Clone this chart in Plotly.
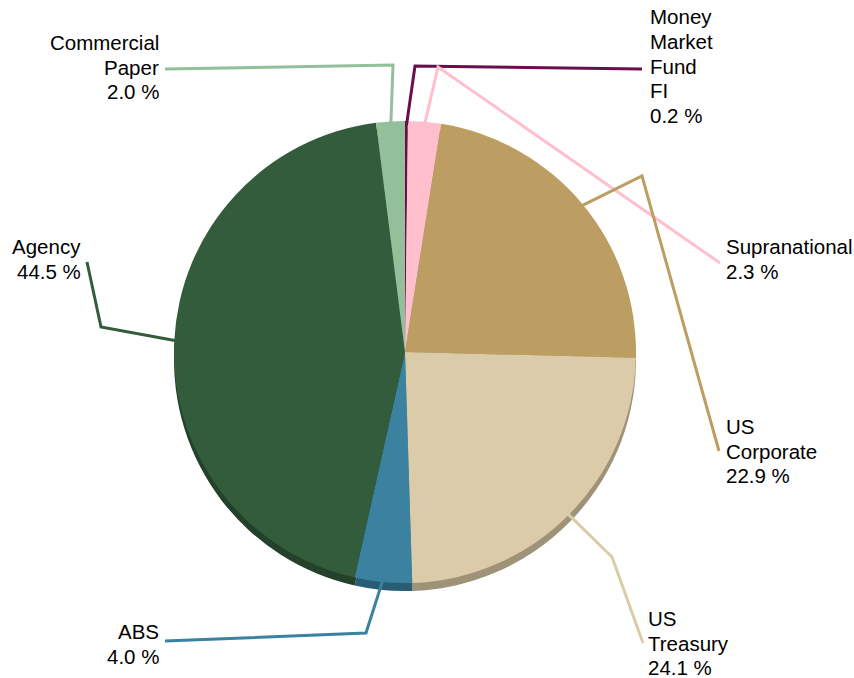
import math
import plotly.graph_objects as go

# 資料
labels = ['Money Market Fund FI', 'Supranational', 'US Corporate', 'US Treasury',
          'ABS', 'Agency', 'Commercial Paper']
values = [0.2, 2.3, 22.9, 24.1, 4.0, 44.5, 2.0]
label_lines = [['Money', 'Market', 'Fund', 'FI'], ['Supranational'], ['US', 'Corporate'],
               ['US', 'Treasury'], ['ABS'], ['Agency'], ['Commercial', 'Paper']]
colors = ['#690F4C', '#FFBFCC', '#BC9E63', '#DCCBA8', '#3A82A0', '#335C3C', '#93C09B']

W, H = 854, 678
CX, CY, R = 405, 352, 231
SHADOW = 8
LINE_GAP = 24.5


def darker(hex_color, f=0.72):
    h = hex_color.lstrip('#')
    r, g, b = (int(h[i:i + 2], 16) for i in (0, 2, 4))
    return '#%02x%02x%02x' % (int(r * f), int(g * f), int(b * f))


def px_x(x):
    return x / W


def px_y(y):
    return 1 - y / H


# 標籤位置（像素）：折點、終點、文字位置與對齊
label_layout = [
    dict(elbow=(415, 66), end=(642, 69), text=(648, 66), side='left'),
    dict(elbow=(438, 67), end=(720, 263), text=(724, 259), side='left'),
    dict(elbow=(642, 176), end=(719, 451), text=(724, 451), side='left'),
    dict(elbow=(612, 557), end=(643, 643), text=(646, 643), side='left'),
    dict(elbow=(366, 633), end=(165, 641), text=(161, 644), side='right'),
    dict(elbow=(101, 327), end=(87, 262), text=(83, 259), side='right'),
    dict(elbow=(393, 65), end=(165, 69), text=(161, 67), side='right'),
]

fig = go.Figure()

# 陰影（立體效果）
fig.add_trace(go.Pie(
    labels=labels, values=values, sort=False, direction='clockwise', rotation=0,
    marker=dict(colors=[darker(c) for c in colors]),
    textinfo='none', hoverinfo='skip', showlegend=False,
    domain=dict(x=[px_x(CX - R), px_x(CX + R)],
                y=[px_y(CY + SHADOW + R), px_y(CY + SHADOW - R)])
))

fig.add_trace(go.Pie(
    labels=labels, values=values, sort=False, direction='clockwise', rotation=0,
    marker=dict(colors=colors),
    textinfo='none', showlegend=False,
    hovertemplate='%{label}<br>%{value:.1f} %<extra></extra>',
    domain=dict(x=[px_x(CX - R), px_x(CX + R)],
                y=[px_y(CY + R), px_y(CY - R)])
))

total = sum(values)
cum = 0
shapes = []
annotations = []
for val, lines, col, lay in zip(values, label_lines, colors, label_layout):
    mid = (cum + val / 2) / total * 2 * math.pi
    cum += val
    ax = CX + R * 0.98 * math.sin(mid)
    ay = CY - R * 0.98 * math.cos(mid)
    ex, ey = lay['elbow']
    tx, ty = lay['end']
    path = 'M %f,%f L %f,%f L %f,%f' % (px_x(ax), px_y(ay), px_x(ex), px_y(ey),
                                          px_x(tx), px_y(ty))
    shapes.append(dict(type='path', path=path, xref='paper', yref='paper',
                       line=dict(color=col, width=3), layer='above'))

    # 每行文字分開放，行距較緊
    rows = lines + ['%.1f %%' % val]
    lx, ly = lay['text']
    n = len(rows)
    for i, row in enumerate(rows):
        y = ly + (i - (n - 1) / 2) * LINE_GAP
        annotations.append(dict(
            x=px_x(lx), y=px_y(y), xref='paper', yref='paper',
            text=row, showarrow=False,
            xanchor=lay['side'], yanchor='middle', align=lay['side'],
            font=dict(size=20.5, color='black')
        ))

fig.update_layout(
    width=W, height=H,
    margin=dict(l=0, r=0, t=0, b=0),
    paper_bgcolor='white', plot_bgcolor='white',
    font=dict(family='Liberation Sans, Arial, sans-serif', size=20),
    shapes=shapes, annotations=annotations,
    showlegend=False
)

# 移除頁面預設邊距，讓圖表貼齊視窗
fig.write_html('out.html', config={'displayModeBar': False},
               post_script="document.body.style.margin='0';")
